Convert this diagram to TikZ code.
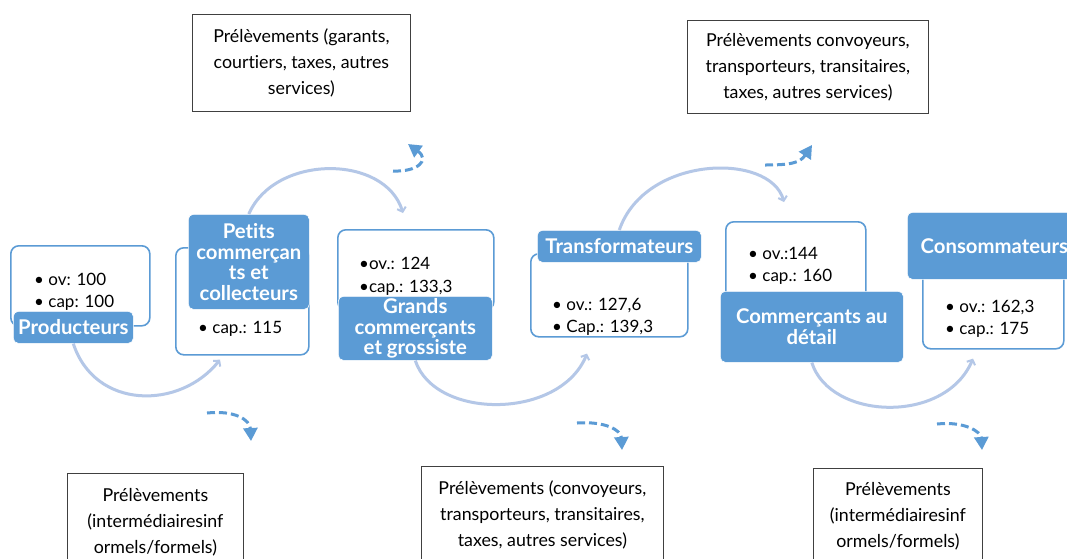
\documentclass[tikz,border=0pt]{standalone}
\usepackage{fontspec}
\setmainfont{Lato}[Ligatures={NoCommon}]
\usetikzlibrary{arrows.meta,calc}
\definecolor{obl}{HTML}{5B9BD5}
\definecolor{arcc}{HTML}{B4C7E7}
\definecolor{pbord}{HTML}{404040}
\begin{document}
\begin{tikzpicture}[x=1pt,y=-1pt,
  wbox/.style={draw=obl, line width=1.6pt, fill=white, rounded corners=8pt, anchor=north west, inner sep=0pt},
  lbox/.style={fill=obl, draw=white, line width=0.6pt, rounded corners=5pt, anchor=north west, inner sep=0pt, text=white, font=\bfseries\fontsize{20.3}{20.5}\selectfont, align=center},
  btxt/.style={anchor=west, align=left, inner sep=0pt, font=\fontsize{17}{22.5}\selectfont, text=black},
  pbox/.style={draw=pbord, line width=0.8pt, fill=white, anchor=north west, inner sep=0pt, align=center, font=\fontsize{17.8}{26}\selectfont},
  flow/.style={draw=arcc, line width=3pt, -{Straight Barb[length=4pt,width=9pt,line width=2pt]}},
  dflow/.style={draw=obl, line width=3pt, dash pattern=on 8pt off 4pt, -{Triangle[length=13pt,width=14pt]}}
]
\clip (0,0) rectangle (1067,558);
\fill[white] (0,0) rectangle (1067,558);

% white boxes
\node[wbox, minimum width=139pt, minimum height=80pt] (b1) at (10,245) {};
\node[wbox, minimum width=133pt, minimum height=107pt] (b2) at (175,247) {};
\node[wbox, minimum width=156pt, minimum height=80pt] (b3) at (337,229) {};
\node[wbox, minimum width=157pt, minimum height=83pt] (b4) at (530,253) {};
\node[wbox, minimum width=140pt, minimum height=80pt] (b5) at (725,221) {};
\node[wbox, minimum width=141pt, minimum height=78pt] (b6) at (922,270) {};

% bullet texts
\node[btxt] (t1) at (34,292) {\textbullet\ ov: 100\\\textbullet\ cap: 100};
\node[btxt] (t2) at (198,329) {\textbullet\ cap.: 115};
\node[btxt] (t3) at (359,276.5) {\textbullet ov.: 124\\\textbullet cap.: 133,3};
\node[btxt] (t4) at (552,317) {\textbullet\ ov.: 127,6\\\textbullet\ Cap.: 139,3};
\node[btxt] (t5) at (748,266) {\textbullet\ ov.:144\\\textbullet\ cap.: 160};
\node[btxt] (t6) at (945,319) {\textbullet\ ov.: 162,3\\\textbullet\ cap.: 175};

% labels
\node[lbox, minimum width=120pt, minimum height=32pt] (l1) at (13,311) {Producteurs};
\node[lbox, minimum width=121pt, minimum height=95pt] (l2) at (188,214) {Petits\\commerçan\\ts et\\collecteurs};
\node[lbox, minimum width=154pt, minimum height=64pt] (l3) at (338,296) {Grands\\commerçants\\et grossiste};
\node[lbox, minimum width=164pt, minimum height=32pt] (l4) at (537,230) {Transformateurs};
\node[lbox, minimum width=183pt, minimum height=71pt] (l5) at (720,291) {Commerçants au\\détail};
\node[lbox, minimum width=174pt, minimum height=67pt] (l6) at (907,212) {Consommateurs};

% prelevements boxes
\node[pbox, minimum width=218pt, minimum height=97pt] (p1) at (192,14) {Prélèvements (garants,\\courtiers, taxes, autres\\services)};
\node[pbox, minimum width=241pt, minimum height=93pt] (p2) at (687,20) {Prélèvements convoyeurs,\\transporteurs, transitaires,\\taxes, autres services)};
\node[pbox, minimum width=176pt, minimum height=97pt] (p3) at (67,473) {Prélèvements\\(intermédiairesinf\\ormels/formels)};
\node[pbox, minimum width=242pt, minimum height=96pt] (p4) at (421,466) {Prélèvements (convoyeurs,\\transporteurs, transitaires,\\taxes, autres services)};
\node[pbox, minimum width=169pt, minimum height=96pt] (p5) at (813,468) {Prélèvements\\(intermédiairesinf\\ormels/formels)};

% flow arcs
\draw[flow] (l1.south) .. controls (95,410) and (180,410) .. ($(b2.south west)+(45,4)$);
\draw[flow] (l2.north) .. controls (275,154) and (385,154) .. ($(b3.north west)+(66,-16)$);
\draw[flow] (l3.south) .. controls (435,420) and (560,420) .. ($(b4.south west)+(57,16)$);
\draw[flow] (l4.north) .. controls (645,155) and (770,152) .. ($(b5.north west)+(59,-19)$);
\draw[flow] (l5.south) .. controls (830,420) and (945,425) .. ($(b6.south west)+(51,9)$);

% dashed arrows
\coordinate (d1s) at (393,171); \coordinate (d1e) at (408,144);
\coordinate (d2s) at (765,165); \coordinate (d2e) at (812,145);
\coordinate (d3s) at (207,413); \coordinate (d3e) at (251,441);
\coordinate (d4s) at (577,423); \coordinate (d4e) at (622,450);
\coordinate (d5s) at (937,424); \coordinate (d5e) at (982,450);
\draw[dflow] (d1s) .. controls (418,172) and (430,160) .. (d1e);
\draw[dflow] (d2s) .. controls (790,165) and (800,163) .. (d2e);
\draw[dflow] (d3s) .. controls (235,410) and (250,420) .. (d3e);
\draw[dflow] (d4s) .. controls (605,421) and (621,430) .. (d4e);
\draw[dflow] (d5s) .. controls (965,421) and (981,432) .. (d5e);
\end{tikzpicture}
\end{document}
